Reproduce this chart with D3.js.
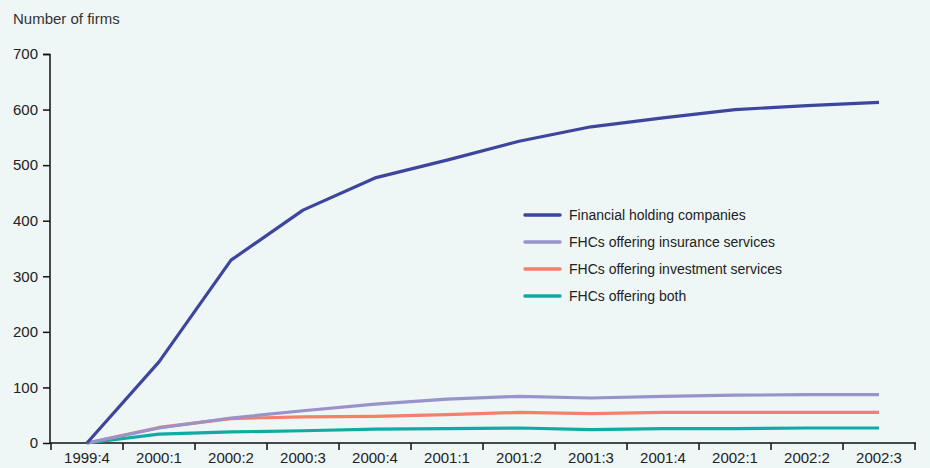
<!DOCTYPE html>
<html>
<head>
<script src="https://cdn.jsdelivr.net/npm/d3@7"></script>
<style>
  body { margin: 0; background: #eef6f6; }
  svg { display: block; font-family: "Liberation Sans Narrow", "Arial Narrow", Arial, sans-serif; }
</style>
</head>
<body>
<svg id="chart"></svg>
<script>
// quarters on the x axis
const quarters = ["1999:4", "2000:1", "2000:2", "2000:3", "2000:4", "2001:1",
                  "2001:2", "2001:3", "2001:4", "2002:1", "2002:2", "2002:3"];

// number of firms
const fhcAll       = [0, 146, 329, 419, 477, 509, 543, 569, 585, 600, 607, 613];
const fhcInsurance = [0, 27, 45, 58, 70, 79, 84, 81, 84, 86, 87, 87];
const fhcInvest    = [0, 28, 44, 47, 48, 51, 55, 53, 55, 55, 55, 55];
const fhcBoth      = [0, 16, 20, 22, 25, 26, 27, 24, 26, 26, 27, 27];

const seriesNames = ["Financial holding companies", "FHCs offering insurance services",
                     "FHCs offering investment services", "FHCs offering both"];
const seriesColors = ["#3d469d", "#9893cb", "#f2806b", "#12aba3"];
const yTicks = [0, 100, 200, 300, 400, 500, 600, 700];

const width = 930, height = 468;
const svg = d3.select("#chart").attr("width", width).attr("height", height);

const x = d3.scaleBand().domain(quarters).range([51, 915]);
const y = d3.scaleLinear().domain([0, 700]).range([443, 54]);

// y axis
const yAxis = svg.append("g")
    .attr("transform", "translate(50,0)")
    .call(d3.axisLeft(y).tickValues(yTicks).tickSize(7).tickPadding(5).tickFormat(d3.format("d")));
yAxis.select(".domain").attr("d", "M-7,54.5H0V443");

// x axis with ticks at band edges
const xAxis = svg.append("g").attr("transform", "translate(0,443)");
xAxis.append("line").attr("x1", 50).attr("x2", 916).attr("stroke", "#111").attr("stroke-width", 1.5);
xAxis.selectAll(".edge")
    .data(quarters.concat(["end"]))
    .enter().append("line")
    .attr("x1", (d, i) => x.range()[0] + i * x.step())
    .attr("x2", (d, i) => x.range()[0] + i * x.step())
    .attr("y1", 0).attr("y2", 7)
    .attr("stroke", "#111").attr("stroke-width", 1.5);
xAxis.selectAll(".lbl")
    .data(quarters)
    .enter().append("text")
    .attr("x", d => x(d) + x.bandwidth() / 2)
    .attr("y", 20)
    .attr("text-anchor", "middle")
    .attr("font-size", 15)
    .attr("fill", "#222")
    .text(d => d);

yAxis.selectAll("text").attr("font-size", 15).attr("fill", "#222").attr("font-family", null);
yAxis.selectAll("line, path").attr("stroke", "#111").attr("stroke-width", 1.5);

svg.append("text")
    .attr("x", 13).attr("y", 24)
    .attr("font-size", 15).attr("fill", "#333")
    .text("Number of firms");

// lines
const allSeries = [fhcAll, fhcInsurance, fhcInvest, fhcBoth];
const line = d3.line()
    .x((d, i) => x(quarters[i]) + x.bandwidth() / 2)
    .y(d => y(d));

svg.selectAll(".series")
    .data(allSeries.slice().reverse())
    .enter().append("path")
    .attr("d", line)
    .attr("fill", "none")
    .attr("stroke", (d, i) => seriesColors[3 - i])
    .attr("stroke-width", 3.2)
    .attr("stroke-linejoin", "round");

// legend
const legend = svg.selectAll(".legend")
    .data(seriesNames)
    .enter().append("g")
    .attr("transform", (d, i) => "translate(525," + (215 + i * 27) + ")");
legend.append("line")
    .attr("x1", 0).attr("x2", 35)
    .attr("stroke", (d, i) => seriesColors[i])
    .attr("stroke-width", 3.5)
    .attr("stroke-linecap", "round");
legend.append("text")
    .attr("x", 44).attr("y", 5)
    .attr("font-size", 14).attr("fill", "#222")
    .text(d => d);
</script>
</body>
</html>
